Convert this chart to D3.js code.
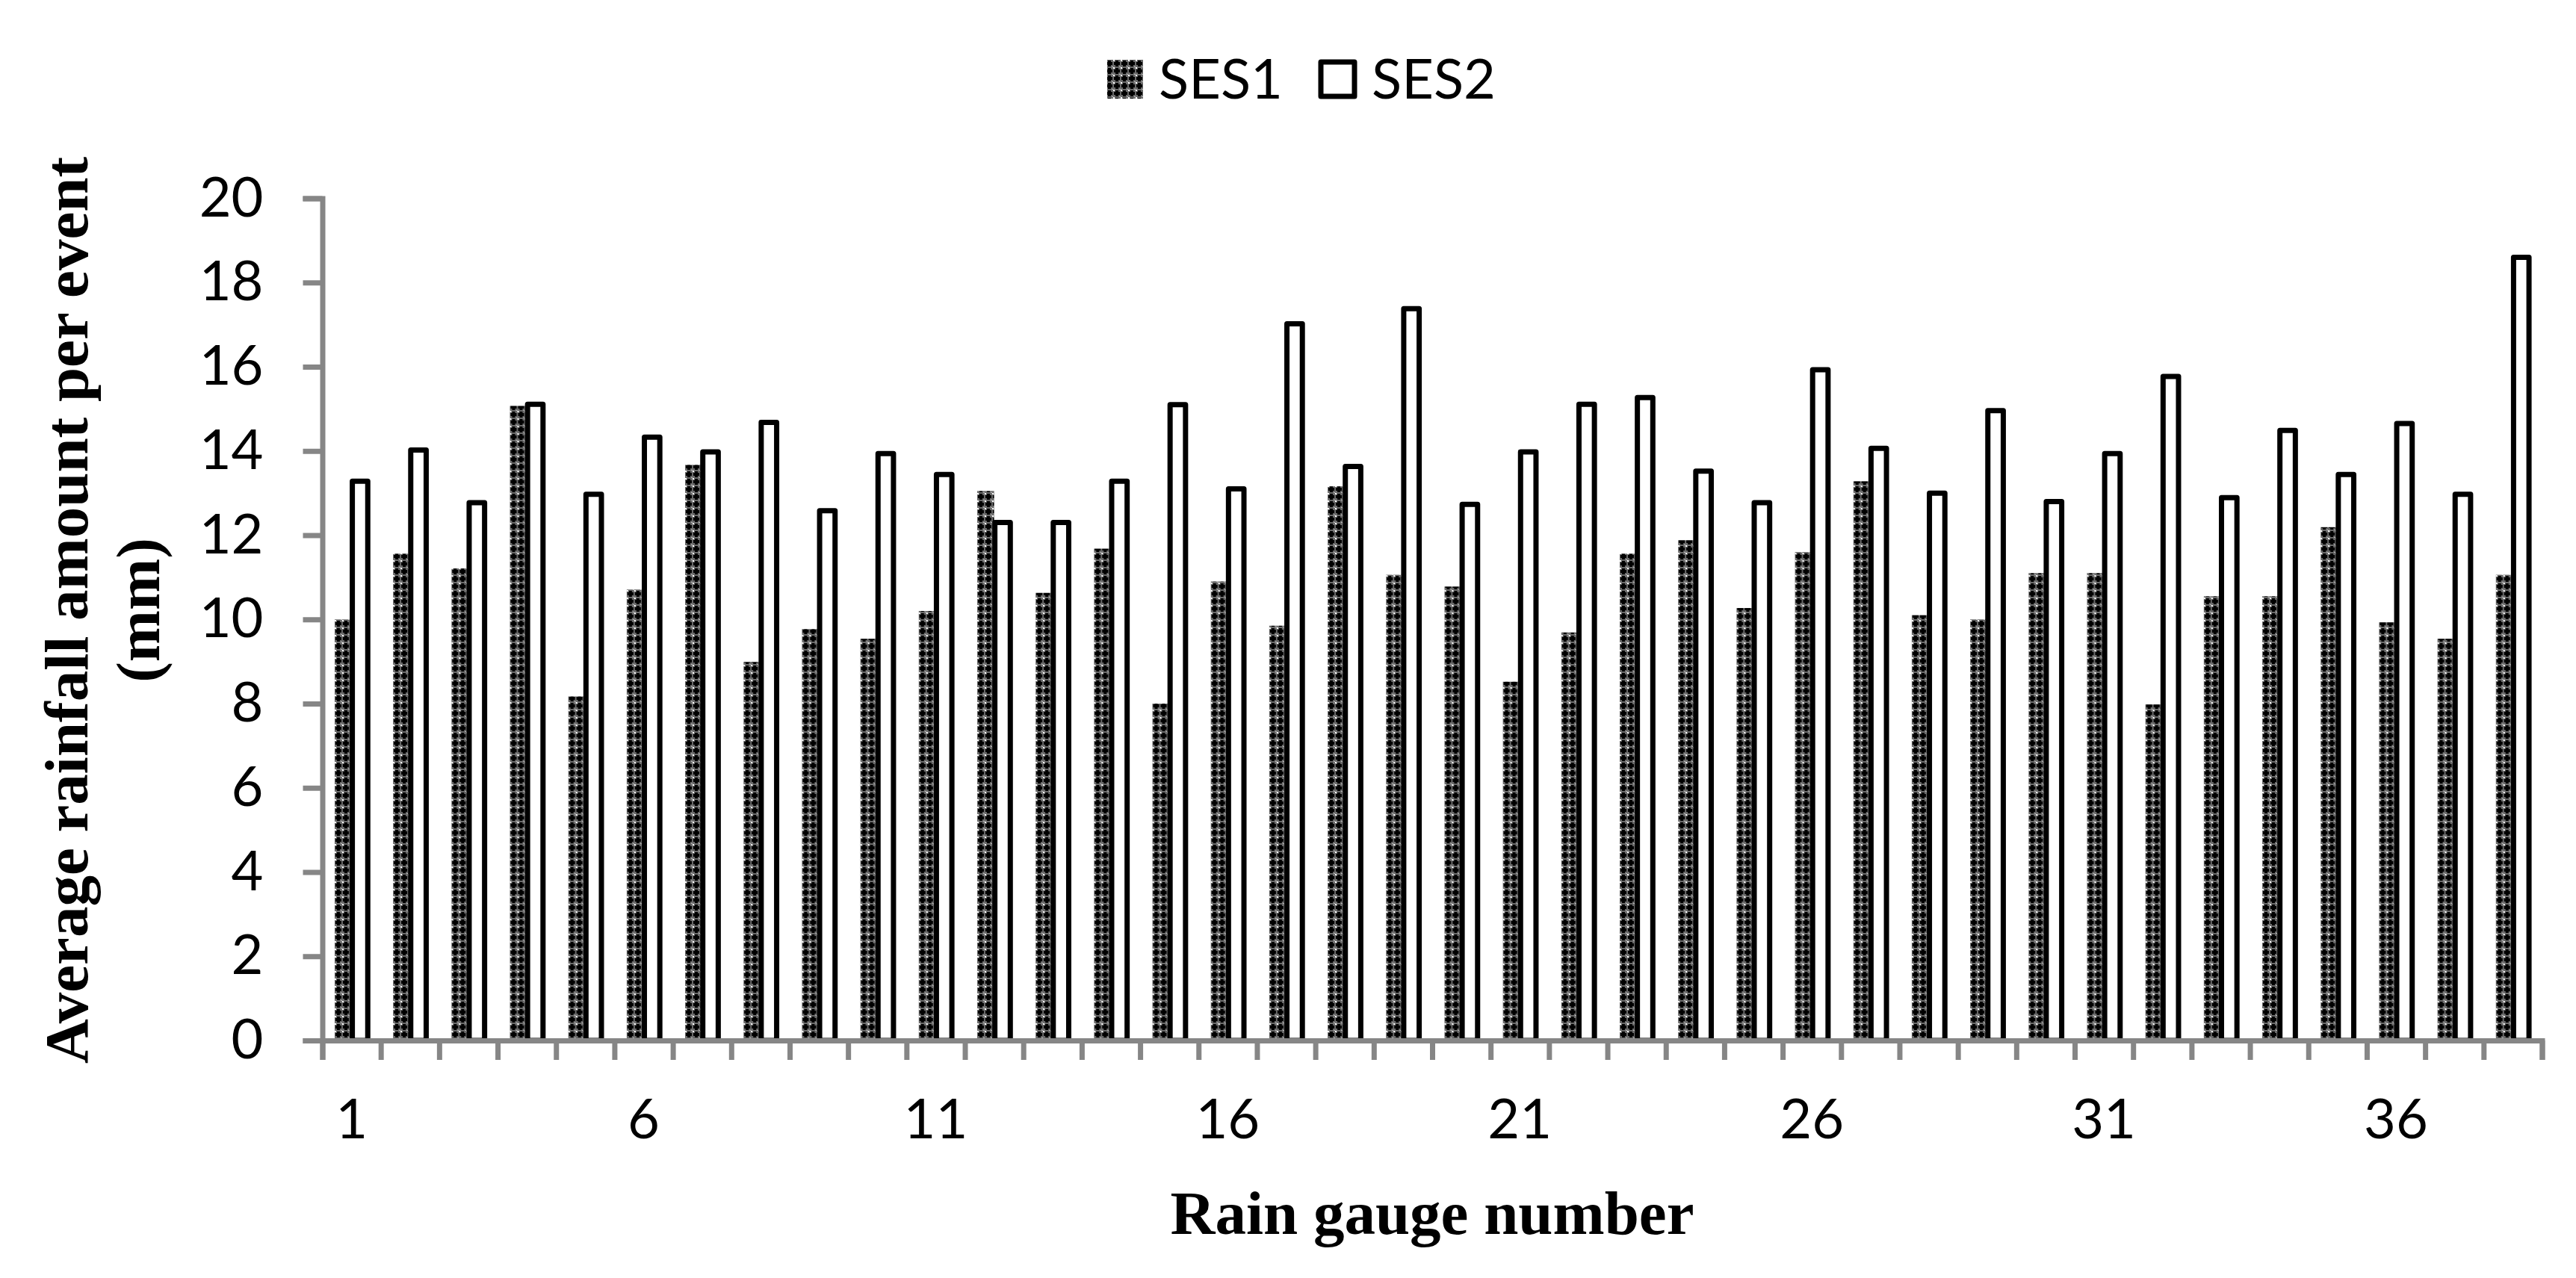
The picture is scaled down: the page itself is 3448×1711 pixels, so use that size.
<!DOCTYPE html>
<html>
<head>
<meta charset="utf-8">
<script src="https://cdn.jsdelivr.net/npm/d3@7"></script>
<style>
  body { margin: 0; background: #fff; }
  svg { display: block; }
</style>
</head>
<body>
<div id="chart"></div>
<script>
// Rain gauges 1..38
const gauges = d3.range(1, 39);
const seriesNames = ["SES1", "SES2"];
const ses1 = [10.0, 11.56, 11.21, 15.07, 8.17, 10.71, 13.67, 8.99, 9.77, 9.54,
  10.2, 13.05, 10.63, 11.68, 8.0, 10.9, 9.85, 13.16, 11.06, 10.78,
  8.52, 9.69, 11.56, 11.88, 10.27, 11.6, 13.28, 10.1, 10.0, 11.1,
  11.1, 7.98, 10.55, 10.55, 12.19, 9.93, 9.54, 11.06];
const ses2 = [13.28, 14.02, 12.77, 15.11, 12.97, 14.33, 13.98, 14.68, 12.58, 13.94,
  13.44, 12.3, 12.3, 13.28, 15.1, 13.1, 17.02, 13.63, 17.38, 12.73,
  13.98, 15.11, 15.27, 13.52, 12.77, 15.93, 14.06, 13.0, 14.96, 12.8,
  13.94, 15.77, 12.89, 14.49, 13.44, 14.65, 12.97, 18.6];
const yTicks = d3.range(0, 21, 2);
const xLabels = [1, 6, 11, 16, 21, 26, 31, 36];

const width = 3448, height = 1711;
const plotLeft = 431.5, plotRight = 3402.5, plotTop = 265.5, plotBottom = 1393;
const axisColor = "#868686";
const tickFont = "Lato, 'Open Sans', sans-serif";
const titleFont = "'Liberation Serif', 'Times New Roman', serif";

const data = gauges.map((g, i) => ({ gauge: g, SES1: ses1[i], SES2: ses2[i] }));

const svg = d3.select("#chart").append("svg")
  .attr("width", width)
  .attr("height", height);

svg.append("rect").attr("width", width).attr("height", height).attr("fill", "#fff");

// checker pattern for SES1
const defs = svg.append("defs");
const pat = defs.append("pattern")
  .attr("id", "checker")
  .attr("patternUnits", "userSpaceOnUse")
  .attr("width", 10).attr("height", 10);
pat.append("rect").attr("width", 10).attr("height", 10).attr("fill", "#6a6a6a");
pat.append("rect").attr("x", 3).attr("y", 1).attr("width", 4).attr("height", 8).attr("fill", "#000");
pat.append("rect").attr("x", 1).attr("y", 3).attr("width", 8).attr("height", 4).attr("fill", "#000");
pat.append("rect").attr("x", 0).attr("y", 0).attr("width", 2).attr("height", 2).attr("fill", "#fff");
pat.append("rect").attr("x", 8).attr("y", 9).attr("width", 2).attr("height", 1).attr("fill", "#bbb");

const y = d3.scaleLinear().domain([0, 20]).range([plotBottom, plotTop]);

const x0 = d3.scaleBand()
  .domain(gauges)
  .range([plotLeft, plotRight])
  .paddingInner(0.42)
  .paddingOuter(0.21);

const x1 = d3.scaleBand()
  .domain(seriesNames)
  .range([0, x0.bandwidth()]);

const xEdge = d3.scaleLinear().domain([0, gauges.length]).range([plotLeft, plotRight]);

// Bars
const groups = svg.append("g")
  .selectAll("g")
  .data(data)
  .join("g")
  .attr("transform", d => `translate(${x0(d.gauge)},0)`);

groups.append("rect")
  .attr("x", x1("SES1"))
  .attr("y", d => y(d.SES1))
  .attr("width", x1.bandwidth())
  .attr("height", d => y(0) - y(d.SES1))
  .attr("fill", "url(#checker)");

groups.append("rect")
  .attr("x", x1("SES2") + 1)
  .attr("y", d => y(d.SES2))
  .attr("width", x1.bandwidth() - 2)
  .attr("height", d => y(0) - y(d.SES2))
  .attr("fill", "#fff")
  .attr("stroke", "#000")
  .attr("stroke-width", 7)
  .attr("stroke-linejoin", "round");

// Y axis
const yAxis = svg.append("g")
  .attr("transform", `translate(${plotLeft},0)`)
  .call(d3.axisLeft(y).tickValues(yTicks).tickSize(26).tickPadding(53));
yAxis.selectAll("path, line").attr("stroke", axisColor).attr("stroke-width", 7);
yAxis.selectAll("text")
  .attr("fill", "#000")
  .style("font-family", tickFont)
  .style("font-size", "74px");

// X axis (ticks at gauge boundaries)
const xAxis = svg.append("g")
  .attr("transform", `translate(0,${plotBottom})`)
  .call(d3.axisBottom(xEdge).tickValues(d3.range(0, gauges.length + 1)).tickSize(26).tickFormat(""));
xAxis.selectAll("path, line").attr("stroke", axisColor).attr("stroke-width", 7);

// X labels
svg.append("g")
  .selectAll("text")
  .data(xLabels)
  .join("text")
  .attr("x", d => x0(d) + x0.bandwidth() / 2)
  .attr("y", 1524)
  .attr("text-anchor", "middle")
  .style("font-family", tickFont)
  .style("font-size", "74px")
  .text(d => d);

// Axis titles
svg.append("text")
  .attr("x", (plotLeft + plotRight) / 2)
  .attr("y", 1652)
  .attr("text-anchor", "middle")
  .style("font-family", titleFont)
  .style("font-weight", "bold")
  .style("font-size", "83px")
  .text("Rain gauge number");

const yTitle = svg.append("text")
  .attr("transform", "translate(117,817) rotate(-90)")
  .attr("text-anchor", "middle")
  .style("font-family", titleFont)
  .style("font-weight", "bold")
  .style("font-size", "83px");
yTitle.append("tspan").attr("x", 0).attr("y", 0).text("Average rainfall amount per event");
yTitle.append("tspan").attr("x", 0).attr("y", 96).text("(mm)");

// Legend
const legend = svg.append("g");
const legendItems = [
  { name: "SES1", sx: 1482, tx: 1551 },
  { name: "SES2", sx: 1768, tx: 1836 }
];
legendItems.forEach(it => {
  if (it.name === "SES1") {
    legend.append("rect")
      .attr("x", it.sx).attr("y", 80)
      .attr("width", 48).attr("height", 52)
      .attr("fill", "url(#checker)");
  } else {
    legend.append("rect")
      .attr("x", it.sx).attr("y", 83)
      .attr("width", 45).attr("height", 46)
      .attr("fill", "#fff")
      .attr("stroke", "#000")
      .attr("stroke-width", 7)
      .attr("stroke-linejoin", "round");
  }
  legend.append("text")
    .attr("x", it.tx)
    .attr("y", 132)
    .style("font-family", tickFont)
    .style("font-size", "74px")
    .text(it.name);
});
</script>
</body>
</html>
